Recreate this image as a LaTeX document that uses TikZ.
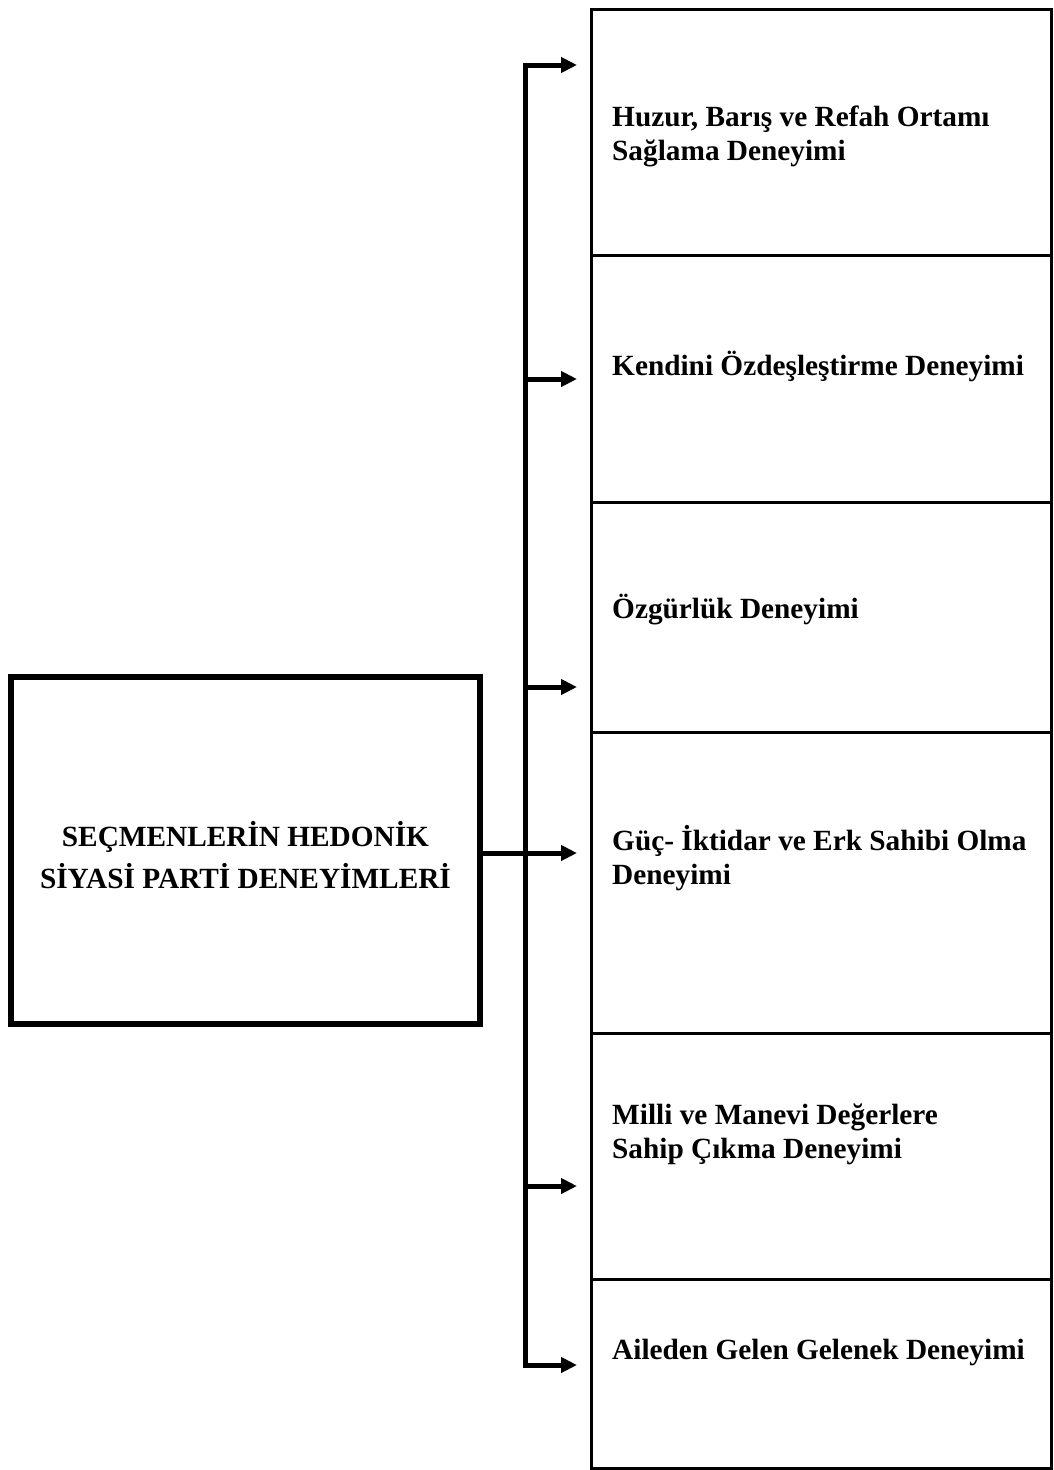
\documentclass[tikz,border=0pt]{standalone}
\usepackage{fontspec}
\setmainfont{Liberation Serif}
\usetikzlibrary{arrows.meta}
\begin{document}
\begin{tikzpicture}[x=1pt,y=-1pt,
  stage/.style={draw, line width=3pt, minimum width=460pt, inner sep=0pt, anchor=north west},
  itemtext/.style={anchor=base west, align=left, inner sep=0pt,
    font=\fontsize{29.3}{34}\selectfont\bfseries},
  source/.style={draw, line width=6pt, minimum width=469pt, minimum height=347pt, inner sep=0pt},
  sourcetext/.style={align=center, inner sep=0pt, font=\fontsize{29.3}{42}\selectfont\bfseries},
  conn/.style={line width=5pt, -{Triangle[length=16pt,width=15pt]}, shorten >=13pt},
  trunk/.style={line width=5pt, {Triangle[length=16pt,width=15pt]}-{Triangle[length=16pt,width=15pt]},
    shorten >=13pt, shorten <=13pt}
]
\useasboundingbox (0,0) rectangle (1053,1470);

% stacked boxes on the right
\node[stage, minimum height=246.5pt] (b1) at (590,7.5) {};
\node[stage, minimum height=246.5pt] (b2) at (590,254) {};
\node[stage, minimum height=230.5pt] (b3) at (590,500.5) {};
\node[stage, minimum height=301pt]   (b4) at (590,731) {};
\node[stage, minimum height=246pt]   (b5) at (590,1032) {};
\node[stage, minimum height=189pt]   (b6) at (590,1278) {};

% box captions (base = baseline of the last line)
\node[itemtext] (l1) at (612,160)  {Huzur, Barış ve Refah Ortamı\\Sağlama Deneyimi};
\node[itemtext] (l2) at (612,375)  {Kendini Özdeşleştirme Deneyimi};
\node[itemtext] (l3) at (612,618)  {Özgürlük Deneyimi};
\node[itemtext] (l4) at (612,884)  {Güç- İktidar ve Erk Sahibi Olma\\Deneyimi};
\node[itemtext] (l5) at (612,1158) {Milli ve Manevi Değerlere\\Sahip Çıkma Deneyimi};
\node[itemtext] (l6) at (612,1359) {Aileden Gelen Gelenek Deneyimi};

% source box and its caption
\node[source] (src) at (245.5,850.5) {};
\node[sourcetext] (srccap) at (245.5,855) {SEÇMENLERİN HEDONİK\\SİYASİ PARTİ DENEYİMLERİ};

% branch points on the vertical trunk
\coordinate (t1) at (525,65);
\coordinate (t2) at (525,379);
\coordinate (t3) at (525,687);
\coordinate (t4) at (525,853);
\coordinate (t5) at (525,1186);
\coordinate (t6) at (525,1365);

% trunk with the two end arrows
\draw[trunk] (t1 -| b1.west) -- (t1) -- (t6) -- (t6 -| b6.west);

% inner branches
\draw[conn] (t2) -- (t2 -| b2.west);
\draw[conn] (t3) -- (t3 -| b3.west);
\draw[conn] (t5) -- (t5 -| b5.west);
\draw[conn] (src.east |- t4) -- (t4 -| b4.west);
\end{tikzpicture}
\end{document}
